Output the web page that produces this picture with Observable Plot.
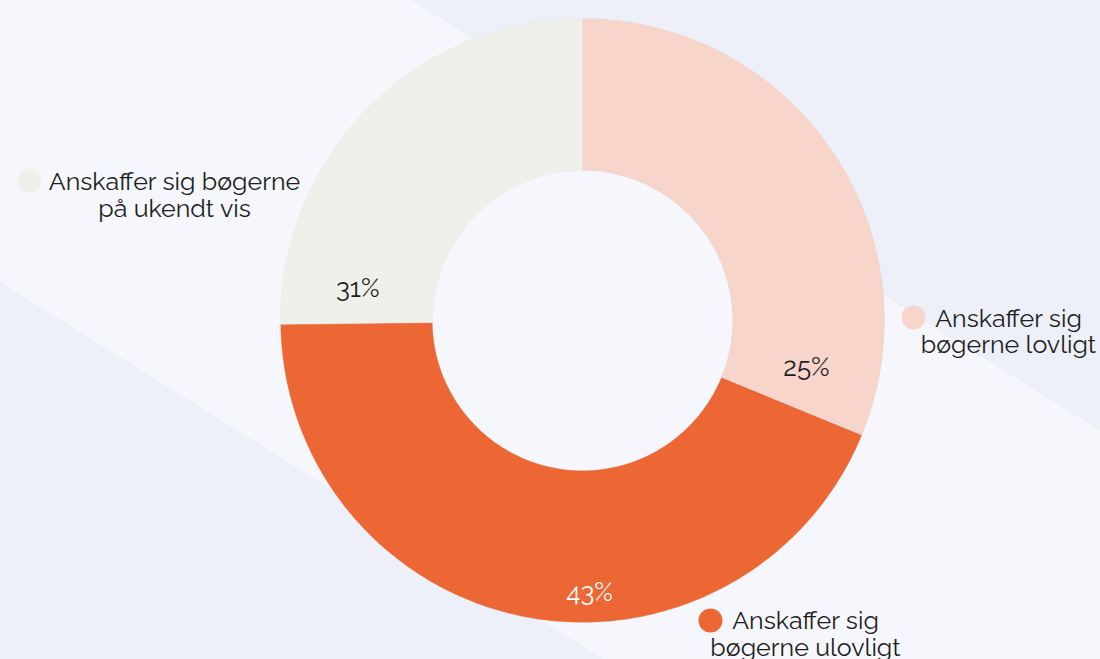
<!DOCTYPE html>
<html>
<head>
<meta charset="utf-8">
<script src="https://cdn.jsdelivr.net/npm/d3@7"></script>
<script src="https://cdn.jsdelivr.net/npm/@observablehq/plot@0.6"></script>
<style>
  html, body { margin: 0; padding: 0; }
  body {
    width: 1100px; height: 659px; overflow: hidden;
    background: linear-gradient(32deg, #EDF0F8 0%, #EDF0F8 28%, #F5F7FC 28%, #F5F7FC 68%, #EDF0F8 68%, #EDF0F8 100%);
  }
  #chart svg { display: block; background: transparent; }
</style>
</head>
<body>
<div id="chart"></div>
<script>
// ---- data ----
const categories = ["Anskaffer sig bøgerne lovligt", "Anskaffer sig bøgerne ulovligt", "Anskaffer sig bøgerne på ukendt vis"];
const legendText = ["Anskaffer sig\nbøgerne lovligt", "Anskaffer sig\nbøgerne ulovligt", "Anskaffer sig bøgerne\npå ukendt vis"];
const shares = [31.2, 43.6, 25.2];       // arc sizes as drawn in the picture
const percentLabels = ["25%", "43%", "31%"]; // label text as printed
const colors = ["#F7D5CA", "#EC6733", "#F0F0EB"];

// ---- layout ----
const W = 1100, H = 659;
const cx = 582, cy = 320;
const R = 302, r0 = 150;
const total = d3.sum(shares);

// arc polygons
const arcPts = [];
let acc = 0;
shares.forEach((v, i) => {
  const a0 = acc / total * 2 * Math.PI;
  acc += v;
  const a1 = acc / total * 2 * Math.PI;
  const n = 160;
  for (let k = 0; k <= n; k++) {
    const a = a0 + (a1 - a0) * k / n;
    arcPts.push({cat: categories[i], x: R * Math.sin(a), y: -R * Math.cos(a)});
  }
  for (let k = n; k >= 0; k--) {
    const a = a0 + (a1 - a0) * k / n;
    arcPts.push({cat: categories[i], x: r0 * Math.sin(a), y: -r0 * Math.cos(a)});
  }
});

// label placement (angle clockwise from top in degrees, radius)
const labelPlace = [[102, 229], [178.5, 272], [278, 227]];
const labelData = percentLabels.map((t, i) => {
  const a = labelPlace[i][0] * Math.PI / 180, rr = labelPlace[i][1];
  return {text: t, cat: categories[i], x: rr * Math.sin(a), y: -rr * Math.cos(a)};
});

const legendPlace = [
  {dot: [913, 317], txt: [1008, 331]},
  {dot: [710, 620], txt: [805, 633.5]},
  {dot: [29, 180], txt: [174, 194.5]}
];
const legendData = categories.map((c, i) => ({
  cat: c, text: legendText[i],
  dx: legendPlace[i].dot[0] - cx, dy: legendPlace[i].dot[1] - cy,
  tx: legendPlace[i].txt[0] - cx, ty: legendPlace[i].txt[1] - cy
}));

const font = "Raleway, Lato, 'Open Sans', sans-serif";

const chart = Plot.plot({
  width: W, height: H,
  margin: 0,
  style: {background: "transparent", fontFamily: font},
  x: {domain: [-cx, W - cx], range: [0, W], axis: null},
  y: {domain: [-cy, H - cy], range: [0, H], axis: null},
  color: {domain: categories, range: colors},
  marks: [
    Plot.line(arcPts, {x: "x", y: "y", z: "cat", fill: "cat", stroke: "#d8d8d8", strokeWidth: 0.4, strokeOpacity: 0.6, curve: "linear-closed"}),
    Plot.text(labelData, {x: "x", y: "y", text: "text", fontSize: 26, fill: d => d.text === "43%" ? "#ffffff" : "#1e1e1e", textAnchor: "middle", lineAnchor: "middle"}),
    Plot.dot(legendData, {x: "dx", y: "dy", r: 12, fill: "cat", stroke: null}),
    Plot.text(legendData, {x: "tx", y: "ty", text: "text", fontSize: 25, lineHeight: 1.07, fill: "#1e1e1e", textAnchor: "middle", lineAnchor: "middle"})
  ]
});
document.getElementById("chart").appendChild(chart);
</script>
</body>
</html>
